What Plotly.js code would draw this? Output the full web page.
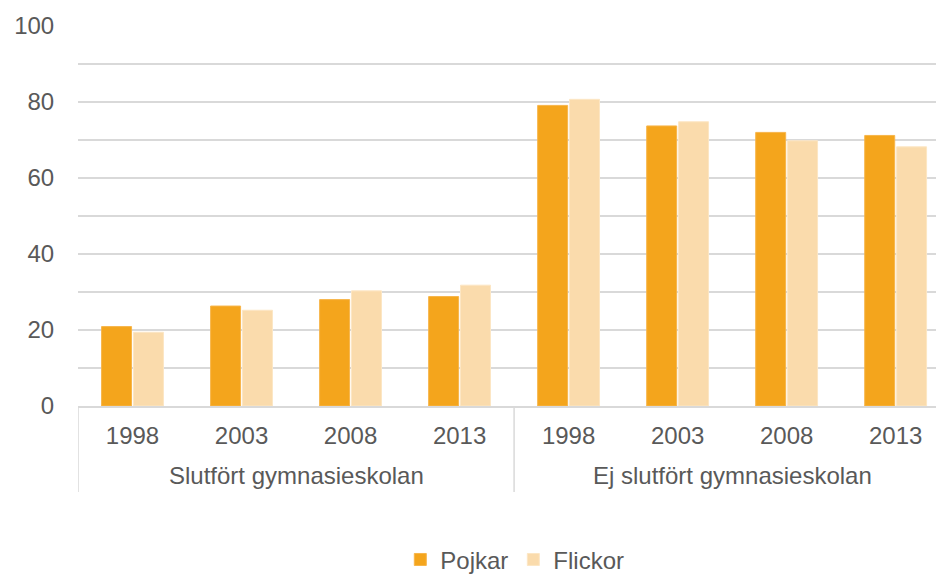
<!DOCTYPE html>
<html>
<head>
<meta charset="utf-8">
<script src="https://cdn.plot.ly/plotly-3.0.1.min.js"></script>
<style>html,body{margin:0;padding:0;background:#fff;}#chart{width:936px;height:576px;}</style>
</head>
<body>
<div id="chart"></div>
<script>
const groups = ["Slutfört gymnasieskolan", "Ej slutfört gymnasieskolan"];
const years = ["1998", "2003", "2008", "2013"];
const pojkar = [20.9, 26.3, 28.0, 28.8, 79.1, 73.7, 72.0, 71.2];
const flickor = [19.4, 25.2, 30.3, 31.8, 80.7, 74.8, 69.8, 68.2];

// unique category keys (group + year), shown with year tick text
const xKeys = [], xText = [];
groups.forEach(g => years.forEach(y => { xKeys.push(g + " " + y); xText.push(y); }));

const font = {family: "Liberation Sans, Arial, sans-serif", color: "#595959"};
const FS = 24;
const axisColor = "#D9D9D9";

const data = [
  {type: "bar", name: "Pojkar", x: xKeys, y: pojkar,
   marker: {color: "#F4A51C", line: {color: "#F7B54A", width: 1}}},
  {type: "bar", name: "Flickor", x: xKeys, y: flickor,
   marker: {color: "#FADBAC", line: {color: "#FCE6C4", width: 1}}}
];

// group labels and dividers placed on the category axis positions
const n = years.length;
const annotations = groups.map((g, i) => ({
  text: g, xref: "x", yref: "paper", x: i * n + (n - 1) / 2, y: -0.184,
  xanchor: "center", yanchor: "middle", showarrow: false,
  font: Object.assign({size: FS}, font)
}));
const shapes = [];
for (let i = 0; i < groups.length; i++) {
  shapes.push({type: "line", xref: "x", yref: "paper", x0: i * n - 0.5, x1: i * n - 0.5,
               y0: 0, y1: -0.226, line: {color: axisColor, width: 1.5}});
}

const layout = {
  width: 936, height: 576,
  margin: {l: 78, r: 0, t: 26, b: 170},
  paper_bgcolor: "#fff", plot_bgcolor: "#fff",
  font: Object.assign({size: FS}, font),
  barmode: "group", bargap: 0.415, bargroupgap: 0.06,
  showlegend: true,
  legend: {orientation: "h", xref: "container", yref: "container",
           x: 0.55, xanchor: "center", y: 0.028, yanchor: "middle",
           font: Object.assign({size: FS}, font), itemwidth: 30},
  annotations: annotations,
  shapes: shapes,
  xaxis: {type: "category", tickvals: xKeys, ticktext: xText, range: [-0.5, 7.37],
          showline: true, linecolor: axisColor, linewidth: 1.5,
          tickfont: Object.assign({size: FS}, font),
          ticks: "outside", ticklen: 8, tickcolor: "rgba(0,0,0,0)", showgrid: false},
  yaxis: {range: [0, 100], dtick: 20, tick0: 0, showgrid: true, gridcolor: axisColor,
          gridwidth: 1.5, zeroline: false, showline: false,
          ticks: "outside", ticklen: 18, tickcolor: "rgba(0,0,0,0)",
          tickfont: Object.assign({size: FS}, font),
          minor: {dtick: 10, showgrid: true, gridcolor: axisColor, gridwidth: 1.5}}
};

Plotly.newPlot("chart", data, layout, {staticPlot: true, displayModeBar: false});
</script>
</body>
</html>
